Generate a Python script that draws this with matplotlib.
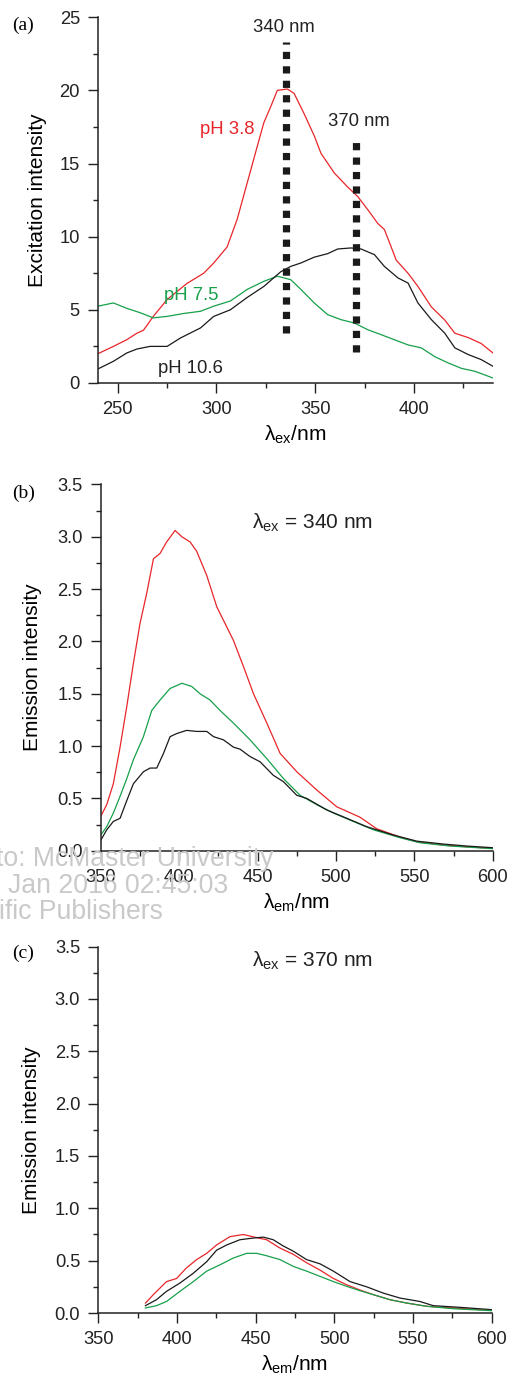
import matplotlib
matplotlib.use("Agg")
import matplotlib.pyplot as plt
from matplotlib.ticker import MultipleLocator, FormatStrFormatter

plt.rcParams['font.family'] = ['Liberation Sans', 'DejaVu Sans']
plt.rcParams['mathtext.fontset'] = 'custom'
plt.rcParams['mathtext.rm'] = 'Liberation Sans'
plt.rcParams['mathtext.it'] = 'Liberation Sans:italic'

RED = '#e8262a'
GREEN = '#16a04a'
BLACK = '#1a1a1a'
INK = '#222222'

# ---- panel (a): excitation spectra ----
ex_red_x = [240, 247.8, 254.6, 259.7, 263, 268, 275, 285, 293.5, 298.6, 305.4, 310.5,
            315.6, 320.7, 324, 327.5, 330.8, 335.9, 339.3, 344.4, 349.5, 352.9, 359.7,
            366.4, 371.5, 376.6, 381.7, 385, 387.6, 391, 397, 402, 408.8, 415.6, 420.7,
            427.5, 434, 440]
ex_red_y = [2.0, 2.5, 2.96, 3.4, 3.6, 4.55, 5.7, 6.8, 7.5, 8.2, 9.3, 11.2,
            13.7, 16.2, 17.8, 18.9, 20.0, 20.1, 19.8, 18.4, 16.9, 15.7, 14.35,
            13.4, 12.75, 11.85, 10.9, 10.5, 9.6, 8.4, 7.5, 6.6, 5.2, 4.3, 3.4,
            3.1, 2.7, 2.05]

ex_green_x = [240, 247.8, 254.6, 261.4, 268, 275, 283.4, 291.9, 298.6, 307, 315.6, 324,
              330.8, 337.6, 342.7, 349.5, 356.3, 363, 369.8, 376.6, 383.4, 390, 397,
              403.7, 410.5, 417.3, 424, 430.8, 440]
ex_green_y = [5.25, 5.47, 5.1, 4.8, 4.45, 4.55, 4.75, 4.9, 5.25, 5.6, 6.4, 6.95,
              7.3, 7.06, 6.4, 5.47, 4.67, 4.33, 4.1, 3.64, 3.3, 2.96, 2.6,
              2.4, 1.8, 1.37, 1.0, 0.8, 0.34]

ex_black_x = [240, 247.8, 254.6, 259.7, 266.4, 275, 281.7, 291.9, 298.6, 307, 315.6, 324,
              332.5, 337.6, 342.7, 349.5, 356.3, 361.4, 368.1, 373.2, 380, 385, 391.9,
              397, 402, 408.8, 415.6, 420.7, 427.5, 434, 440]
ex_black_y = [0.96, 1.48, 2.05, 2.32, 2.5, 2.5, 3.07, 3.76, 4.55, 5.0, 5.85, 6.6,
              7.6, 7.97, 8.2, 8.6, 8.84, 9.16, 9.23, 9.16, 8.77, 7.97, 7.18,
              6.83, 5.47, 4.33, 3.4, 2.4, 1.94, 1.6, 1.14]

# ---- panel (b): emission, excitation 340 nm ----
b_red_x = [350, 353.8, 358, 362.3, 366.6, 370.8, 375, 379.3, 383.6, 387.8, 392, 397.4,
           401.7, 407, 411.2, 417.6, 424, 434.6, 441, 447.4, 455.9, 464.4, 475, 487.8,
           500.5, 515.4, 526, 541, 551.5, 568.5, 583.4, 600]
b_red_y = [0.33, 0.44, 0.64, 0.99, 1.38, 1.79, 2.17, 2.46, 2.79, 2.84, 2.95, 3.06,
           3.0, 2.95, 2.86, 2.63, 2.33, 2.01, 1.76, 1.5, 1.22, 0.93, 0.755, 0.58,
           0.42, 0.32, 0.21, 0.13, 0.086, 0.054, 0.038, 0.022]

b_green_x = [350, 353.8, 358, 362.3, 366.6, 370.8, 377.2, 382.5, 387.8, 394.2, 401.7, 408,
             413.3, 419.7, 426.1, 434.6, 445.2, 455.9, 466.5, 477.1, 487.8, 498.4, 511.1,
             523.9, 541, 553.7, 572.8, 600]
b_green_y = [0.15, 0.23, 0.36, 0.52, 0.69, 0.87, 1.09, 1.34, 1.44, 1.55, 1.6, 1.57,
             1.5, 1.44, 1.34, 1.22, 1.06, 0.88, 0.69, 0.53, 0.44, 0.36, 0.28,
             0.2, 0.124, 0.076, 0.045, 0.02]

b_black_x = [350, 353.8, 358, 362.3, 366.6, 370.8, 377.2, 381.5, 385.7, 390, 394.2, 398.5,
             404.8, 411.2, 417.6, 421.9, 428.2, 434.6, 438.9, 445.2, 451.6, 460.1, 466.5,
             475, 481.4, 494.1, 506.9, 519.6, 536.6, 551.5, 568.5, 583.4, 600]
b_black_y = [0.10, 0.2, 0.28, 0.31, 0.48, 0.64, 0.755, 0.79, 0.79, 0.93, 1.09, 1.12,
             1.15, 1.14, 1.14, 1.09, 1.06, 0.99, 0.97, 0.9, 0.85, 0.72, 0.66,
             0.53, 0.5, 0.39, 0.31, 0.23, 0.15, 0.092, 0.064, 0.045, 0.029]

# ---- panel (c): emission, excitation 370 nm ----
c_red_x = [380, 385, 393.4, 399.8, 406, 412.5, 418.9, 425.2, 433.7, 442.2, 450.6, 457,
           465.5, 474, 482.4, 490.9, 499.4, 507.8, 516.3, 524.8, 535.4, 546, 558.7,
           575.6, 600]
c_red_y = [0.095, 0.175, 0.3, 0.33, 0.43, 0.51, 0.57, 0.65, 0.73, 0.75, 0.72, 0.70,
           0.62, 0.56, 0.48, 0.41, 0.33, 0.27, 0.22, 0.175, 0.127, 0.095, 0.064,
           0.048, 0.025]

c_black_x = [380, 387, 393.4, 401.9, 410.4, 418.9, 425.2, 431.6, 440, 448.5, 454.9, 461.2,
             467.6, 474, 482.4, 490.9, 499.4, 510, 520.6, 531.1, 541.7, 554.4, 562.9,
             579.9, 600]
c_black_y = [0.07, 0.127, 0.207, 0.286, 0.38, 0.49, 0.6, 0.65, 0.70, 0.716, 0.725, 0.70,
             0.64, 0.59, 0.51, 0.47, 0.40, 0.30, 0.25, 0.19, 0.143, 0.11, 0.07,
             0.054, 0.032]

c_green_x = [380, 387, 393.4, 401.9, 410.4, 418.9, 427.3, 435.8, 444.3, 450.6, 457, 465.5,
             474, 482.4, 490.9, 499.4, 507.8, 516.3, 524.8, 535.4, 546, 558.7, 575.6, 600]
c_green_y = [0.048, 0.07, 0.11, 0.207, 0.30, 0.40, 0.46, 0.525, 0.57, 0.57, 0.547, 0.51,
             0.445, 0.40, 0.35, 0.30, 0.255, 0.213, 0.175, 0.127, 0.095, 0.064, 0.041, 0.022]

# marker lines in (a): x position, y start, y end
mark_x = [335, 370.5]
mark_y0 = [3.4, 2.1]
mark_y1 = [23.3, 16.9]
mark_labels = ['340 nm', '370 nm']

TICK_FS = 13.2
LABEL_FS = 15
NOTE_FS = 13.3


def style_axes(ax):
    for s in ['top', 'right']:
        ax.spines[s].set_visible(False)
    for s in ['left', 'bottom']:
        ax.spines[s].set_linewidth(1.1)
        ax.spines[s].set_color(INK)
    ax.tick_params(which='major', direction='out', length=7, width=1.0,
                   labelsize=TICK_FS, colors=INK, pad=6)
    ax.tick_params(which='minor', direction='out', length=3.6, width=1.0,
                   colors=INK)


def emission_axes(ax):
    ax.set_xlim(350, 600)
    ax.set_ylim(0, 3.5)
    ax.xaxis.set_major_locator(MultipleLocator(50))
    ax.xaxis.set_minor_locator(MultipleLocator(25))
    ax.yaxis.set_major_locator(MultipleLocator(0.5))
    ax.yaxis.set_minor_locator(MultipleLocator(0.25))
    ax.yaxis.set_major_formatter(FormatStrFormatter('%.1f'))
    style_axes(ax)
    ax.set_xlabel('λ$_{\\rm em}$/nm', fontsize=LABEL_FS, labelpad=4)


fig = plt.figure(figsize=(5.09, 13.84), dpi=100)

# (a)
ax = fig.add_axes([0.1925, 0.7233, 0.776, 0.2642])
ax.plot(ex_red_x, ex_red_y, color=RED, lw=0.9)
ax.plot(ex_green_x, ex_green_y, color=GREEN, lw=0.9)
ax.plot(ex_black_x, ex_black_y, color=BLACK, lw=0.9)
for mx, y0, y1 in zip(mark_x, mark_y0, mark_y1):
    ax.plot([mx, mx], [y0, y1], color=BLACK, lw=5.2, dashes=(1, 1),
            solid_capstyle='butt', dash_capstyle='butt')
ax.text(334, 24.3, mark_labels[0], ha='center', va='center', fontsize=NOTE_FS, color=INK)
ax.text(372, 17.9, mark_labels[1], ha='center', va='center', fontsize=NOTE_FS, color=INK)
ax.text(305.5, 17.3, 'pH 3.8', ha='center', va='center', fontsize=NOTE_FS, color=RED)
ax.text(287, 6.0, 'pH 7.5', ha='center', va='center', fontsize=NOTE_FS, color=GREEN)
ax.text(287, 0.96, 'pH 10.6', ha='center', va='center', fontsize=NOTE_FS, color=INK)
ax.set_xlim(240, 440)
ax.set_ylim(0, 25)
ax.xaxis.set_major_locator(MultipleLocator(50))
ax.xaxis.set_minor_locator(MultipleLocator(25))
ax.yaxis.set_major_locator(MultipleLocator(5))
ax.yaxis.set_minor_locator(MultipleLocator(2.5))
style_axes(ax)
ax.set_xlabel('λ$_{\\rm ex}$/nm', fontsize=LABEL_FS, labelpad=4)
ax.set_ylabel('Excitation intensity', fontsize=LABEL_FS, labelpad=9)
fig.text(0.0236, 0.982, '(a)', family='Liberation Serif', fontsize=14, va='center')

# (b)
ax = fig.add_axes([0.198, 0.3853, 0.770, 0.2647])
ax.plot(b_red_x, b_red_y, color=RED, lw=0.9)
ax.plot(b_green_x, b_green_y, color=GREEN, lw=0.9)
ax.plot(b_black_x, b_black_y, color=BLACK, lw=0.9)
ax.text(485, 3.13, 'λ$_{\\rm ex}$ = 340 nm', ha='center', va='center',
        fontsize=LABEL_FS, color=INK)
emission_axes(ax)
ax.set_ylabel('Emission intensity', fontsize=LABEL_FS, labelpad=11)
fig.text(0.0236, 0.6437, '(b)', family='Liberation Serif', fontsize=14, va='center')

# (c)
ax = fig.add_axes([0.193, 0.0513, 0.773, 0.2647])
ax.plot(c_red_x, c_red_y, color=RED, lw=0.9)
ax.plot(c_black_x, c_black_y, color=BLACK, lw=0.9)
ax.plot(c_green_x, c_green_y, color=GREEN, lw=0.9)
ax.text(486, 3.36, 'λ$_{\\rm ex}$ = 370 nm', ha='center', va='center',
        fontsize=LABEL_FS, color=INK)
emission_axes(ax)
ax.set_ylabel('Emission intensity', fontsize=LABEL_FS, labelpad=9.5)
fig.text(0.0236, 0.3113, '(c)', family='Liberation Serif', fontsize=14, va='center')

# watermark left over from the source page
wm = '#c9c9c9'
fig.text(274 / 509, 1 - 859 / 1384, 'to: McMaster University', ha='right', va='center',
         fontsize=19.2, color=wm, zorder=0)
fig.text(228 / 509, 1 - 886 / 1384, 'Jan 2016 02:45:03', ha='right', va='center',
         fontsize=19.2, color=wm, zorder=0)
fig.text(163 / 509, 1 - 912 / 1384, 'ific Publishers', ha='right', va='center',
         fontsize=19.2, color=wm, zorder=0)

fig.savefig('out.png', dpi=100)
